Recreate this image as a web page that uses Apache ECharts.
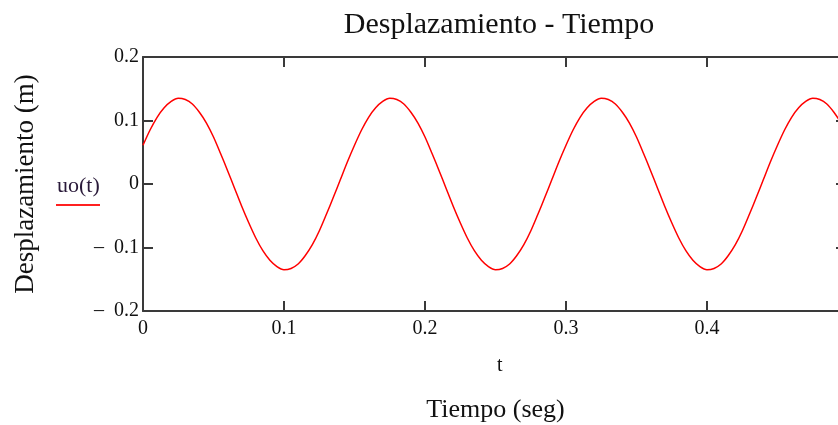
<!DOCTYPE html>
<html>
<head>
<meta charset="utf-8">
<title>Desplazamiento - Tiempo</title>
<script src="https://cdn.jsdelivr.net/npm/echarts@6/dist/echarts.min.js"></script>
<style>
  html, body { margin: 0; padding: 0; background: #ffffff; }
  #chart { width: 838px; height: 425px; }
</style>
</head>
<body>
<div id="chart"></div>
<script>
// Sample times (s)
const tiempo = [
  0.000, 0.005, 0.010, 0.015, 0.020, 0.025, 0.030, 0.035, 0.040, 0.045,
  0.050, 0.055, 0.060, 0.065, 0.070, 0.075, 0.080, 0.085, 0.090, 0.095,
  0.100, 0.105, 0.110, 0.115, 0.120, 0.125, 0.130, 0.135, 0.140, 0.145,
  0.150, 0.155, 0.160, 0.165, 0.170, 0.175, 0.180, 0.185, 0.190, 0.195,
  0.200, 0.205, 0.210, 0.215, 0.220, 0.225, 0.230, 0.235, 0.240, 0.245,
  0.250, 0.255, 0.260, 0.265, 0.270, 0.275, 0.280, 0.285, 0.290, 0.295,
  0.300, 0.305, 0.310, 0.315, 0.320, 0.325, 0.330, 0.335, 0.340, 0.345,
  0.350, 0.355, 0.360, 0.365, 0.370, 0.375, 0.380, 0.385, 0.390, 0.395,
  0.400, 0.405, 0.410, 0.415, 0.420, 0.425, 0.430, 0.435, 0.440, 0.445,
  0.450, 0.455, 0.460, 0.465, 0.470, 0.475, 0.480, 0.485, 0.490, 0.495,
  0.500
];

// Displacement uo(t) in metres
const uo = [
  0.061, 0.085, 0.105, 0.120, 0.130, 0.135, 0.133, 0.126, 0.113, 0.096,
  0.074, 0.048, 0.021, -0.007, -0.035, -0.061, -0.085, -0.105, -0.120, -0.130,
  -0.135, -0.133, -0.126, -0.113, -0.096, -0.074, -0.048, -0.021, 0.007, 0.035,
  0.061, 0.085, 0.105, 0.120, 0.130, 0.135, 0.133, 0.126, 0.113, 0.096,
  0.074, 0.048, 0.021, -0.007, -0.035, -0.061, -0.085, -0.105, -0.120, -0.130,
  -0.135, -0.133, -0.126, -0.113, -0.096, -0.074, -0.048, -0.021, 0.007, 0.035,
  0.061, 0.085, 0.105, 0.120, 0.130, 0.135, 0.133, 0.126, 0.113, 0.096,
  0.074, 0.048, 0.021, -0.007, -0.035, -0.061, -0.085, -0.105, -0.120, -0.130,
  -0.135, -0.133, -0.126, -0.113, -0.096, -0.074, -0.048, -0.021, 0.007, 0.035,
  0.061, 0.085, 0.105, 0.120, 0.130, 0.135, 0.133, 0.126, 0.113, 0.096,
  0.074
];

// Axis ranges and tick labels
const xTicks = ['0', '0.1', '0.2', '0.3', '0.4'];
const yTicks = ['–  0.2', '–  0.1', '0', '0.1', '0.2'];
const xRange = [0, 0.5];
const yRange = [-0.2, 0.2];

const SERIF = '"Liberation Serif", "DejaVu Serif", serif';
const FRAME = '#3a3a3a';

const chart = echarts.init(document.getElementById('chart'), null, { renderer: 'canvas' });

const pairs = tiempo.map((t, i) => [t, uo[i]]);

function xLabel(v) {
  const i = Math.round(v * 10);
  return i >= 0 && i < xTicks.length ? xTicks[i] : '';
}
function yLabel(v) {
  const i = Math.round(v * 10) + 2;
  return yTicks[i] !== undefined ? yTicks[i] : '';
}

const frameAxis = {
  axisLine: { show: true, onZero: false, lineStyle: { color: FRAME, width: 2 } },
  axisTick: { show: true, inside: true, length: 10, lineStyle: { color: FRAME, width: 2 } },
  splitLine: { show: false }
};

chart.setOption({
  animation: false,
  backgroundColor: '#ffffff',
  title: {
    text: 'Desplazamiento - Tiempo',
    left: 494,
    top: 5,
    textAlign: 'center',
    textStyle: { fontFamily: SERIF, fontSize: 30, fontWeight: 'normal', color: '#111' }
  },
  graphic: [
    {
      type: 'text',
      left: 57, top: 175,
      style: { text: 'uo(t)', fontFamily: SERIF, fontSize: 22, fill: '#2a1a3a' }
    },
    {
      type: 'line',
      shape: { x1: 56, y1: 205, x2: 100, y2: 205 },
      style: { stroke: '#ff2020', lineWidth: 2 }
    },
    {
      type: 'text',
      left: 497, top: 356,
      style: { text: 't', fontFamily: SERIF, fontSize: 20, fill: '#111' }
    }
  ],
  // the plot box extends a little past the right edge of the canvas (t = 0.5)
  grid: { left: 143, top: 57, width: 705, height: 254, containLabel: false, outerBoundsMode: 'none' },
  xAxis: [
    Object.assign({}, frameAxis, {
      type: 'value', position: 'bottom', min: xRange[0], max: xRange[1], interval: 0.1,
      axisLabel: { show: true, formatter: xLabel, margin: 8, fontFamily: SERIF, fontSize: 20, color: '#111' },
      name: 'Tiempo (seg)', nameLocation: 'middle', nameGap: 86,
      nameTextStyle: { fontFamily: SERIF, fontSize: 26, color: '#111' }
    }),
    Object.assign({}, frameAxis, {
      type: 'value', position: 'top', min: xRange[0], max: xRange[1], interval: 0.1,
      axisLabel: { show: false }
    })
  ],
  yAxis: [
    Object.assign({}, frameAxis, {
      type: 'value', position: 'left', min: yRange[0], max: yRange[1], interval: 0.1,
      axisLabel: {
        show: true, formatter: yLabel, margin: 4, padding: [4, 0, 0, 0],
        fontFamily: SERIF, fontSize: 20, color: '#111'
      },
      name: 'Desplazamiento (m)', nameLocation: 'middle', nameGap: 104, nameRotate: 90,
      nameTextStyle: { fontFamily: SERIF, fontSize: 27, color: '#111' }
    }),
    Object.assign({}, frameAxis, {
      type: 'value', position: 'right', min: yRange[0], max: yRange[1], interval: 0.1,
      axisTick: { show: true, inside: true, length: 12, lineStyle: { color: FRAME, width: 2 } },
      axisLabel: { show: false }
    })
  ],
  series: [
    {
      name: 'uo(t)',
      type: 'line',
      data: pairs,
      xAxisIndex: 0,
      yAxisIndex: 0,
      smooth: 0.3,
      showSymbol: false,
      lineStyle: { color: '#ff0000', width: 1.5 },
      clip: true
    }
  ]
});
</script>
</body>
</html>
